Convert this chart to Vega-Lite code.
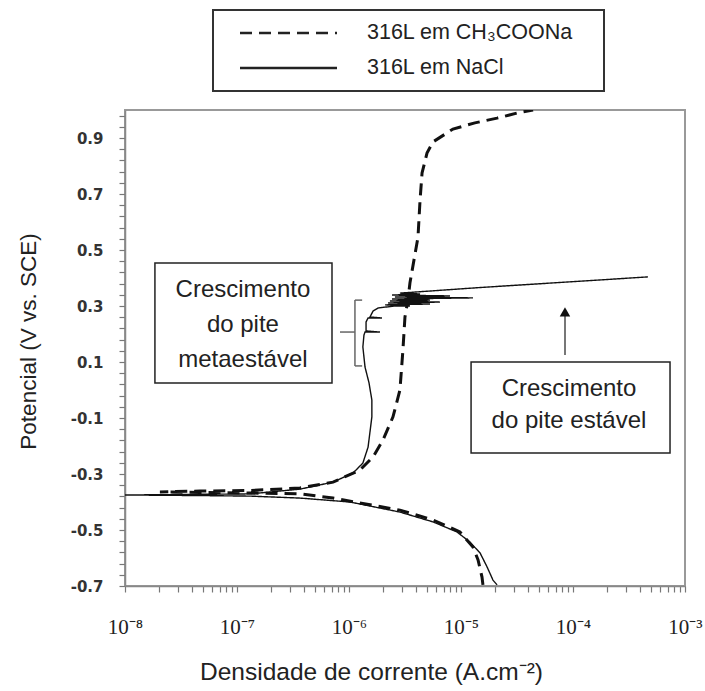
{
  "$schema": "https://vega.github.io/schema/vega-lite/v6.json",
  "width": 560,
  "height": 476,
  "autosize": {"type": "none"},
  "padding": {"left": 125, "top": 110, "right": 20, "bottom": 105},
  "background": "white",
  "config": {
    "view": {"stroke": "#999", "strokeWidth": 2},
    "font": "Liberation Sans"
  },
  "datasets": {
    "solid": [
      {"s": "316L em NaCl", "o": 1, "i": 2.10e-5, "E": -0.696},
      {"s": "316L em NaCl", "o": 2, "i": 1.93e-5, "E": -0.679},
      {"s": "316L em NaCl", "o": 3, "i": 1.71e-5, "E": -0.632},
      {"s": "316L em NaCl", "o": 4, "i": 1.48e-5, "E": -0.582},
      {"s": "316L em NaCl", "o": 5, "i": 1.20e-5, "E": -0.543},
      {"s": "316L em NaCl", "o": 6, "i": 9.21e-6, "E": -0.507},
      {"s": "316L em NaCl", "o": 7, "i": 5.62e-6, "E": -0.471},
      {"s": "316L em NaCl", "o": 8, "i": 2.85e-6, "E": -0.436},
      {"s": "316L em NaCl", "o": 9, "i": 1.02e-6, "E": -0.400},
      {"s": "316L em NaCl", "o": 10, "i": 3.65e-7, "E": -0.386},
      {"s": "316L em NaCl", "o": 11, "i": 1.31e-7, "E": -0.379},
      {"s": "316L em NaCl", "o": 12, "i": 4.67e-8, "E": -0.377},
      {"s": "316L em NaCl", "o": 13, "i": 1.0e-8, "E": -0.375},
      {"s": "316L em NaCl", "o": 14, "i": 1.31e-7, "E": -0.371},
      {"s": "316L em NaCl", "o": 15, "i": 3.65e-7, "E": -0.354},
      {"s": "316L em NaCl", "o": 16, "i": 7.20e-7, "E": -0.329},
      {"s": "316L em NaCl", "o": 17, "i": 1.09e-6, "E": -0.296},
      {"s": "316L em NaCl", "o": 18, "i": 1.33e-6, "E": -0.261},
      {"s": "316L em NaCl", "o": 19, "i": 1.48e-6, "E": -0.204},
      {"s": "316L em NaCl", "o": 20, "i": 1.60e-6, "E": -0.096},
      {"s": "316L em NaCl", "o": 21, "i": 1.60e-6, "E": -0.036},
      {"s": "316L em NaCl", "o": 22, "i": 1.51e-6, "E": 0.025},
      {"s": "316L em NaCl", "o": 23, "i": 1.39e-6, "E": 0.082},
      {"s": "316L em NaCl", "o": 24, "i": 1.33e-6, "E": 0.154},
      {"s": "316L em NaCl", "o": 25, "i": 1.36e-6, "E": 0.196},
      {"s": "316L em NaCl", "o": 26, "i": 1.39e-6, "E": 0.207},
      {"s": "316L em NaCl", "o": 27, "i": 1.89e-6, "E": 0.207},
      {"s": "316L em NaCl", "o": 28, "i": 1.42e-6, "E": 0.211},
      {"s": "316L em NaCl", "o": 29, "i": 1.42e-6, "E": 0.243},
      {"s": "316L em NaCl", "o": 30, "i": 1.48e-6, "E": 0.257},
      {"s": "316L em NaCl", "o": 31, "i": 1.97e-6, "E": 0.257},
      {"s": "316L em NaCl", "o": 32, "i": 1.54e-6, "E": 0.261},
      {"s": "316L em NaCl", "o": 33, "i": 1.64e-6, "E": 0.282},
      {"s": "316L em NaCl", "o": 34, "i": 1.82e-6, "E": 0.293},
      {"s": "316L em NaCl", "o": 35, "i": 2.57e-6, "E": 0.300},
      {"s": "316L em NaCl", "o": 36, "i": 3.50e-6, "E": 0.300},
      {"s": "316L em NaCl", "o": 37, "i": 2.10e-6, "E": 0.304},
      {"s": "316L em NaCl", "o": 38, "i": 5.29e-6, "E": 0.307},
      {"s": "316L em NaCl", "o": 39, "i": 2.23e-6, "E": 0.311},
      {"s": "316L em NaCl", "o": 40, "i": 6.49e-6, "E": 0.314},
      {"s": "316L em NaCl", "o": 41, "i": 2.32e-6, "E": 0.318},
      {"s": "316L em NaCl", "o": 42, "i": 5.29e-6, "E": 0.321},
      {"s": "316L em NaCl", "o": 43, "i": 2.42e-6, "E": 0.325},
      {"s": "316L em NaCl", "o": 44, "i": 1.28e-5, "E": 0.329},
      {"s": "316L em NaCl", "o": 45, "i": 2.57e-6, "E": 0.332},
      {"s": "316L em NaCl", "o": 46, "i": 7.98e-6, "E": 0.336},
      {"s": "316L em NaCl", "o": 47, "i": 2.42e-6, "E": 0.339},
      {"s": "316L em NaCl", "o": 48, "i": 4.31e-6, "E": 0.343},
      {"s": "316L em NaCl", "o": 49, "i": 2.85e-6, "E": 0.346},
      {"s": "316L em NaCl", "o": 50, "i": 1.48e-5, "E": 0.366},
      {"s": "316L em NaCl", "o": 51, "i": 7.65e-5, "E": 0.384},
      {"s": "316L em NaCl", "o": 52, "i": 1.74e-4, "E": 0.393},
      {"s": "316L em NaCl", "o": 53, "i": 4.67e-4, "E": 0.404}
    ],
    "dashed": [
      {"s": "316L em CH₃COONa", "o": 1, "i": 1.57e-5, "E": -0.696},
      {"s": "316L em CH₃COONa", "o": 2, "i": 1.54e-5, "E": -0.668},
      {"s": "316L em CH₃COONa", "o": 3, "i": 1.42e-5, "E": -0.607},
      {"s": "316L em CH₃COONa", "o": 4, "i": 1.28e-5, "E": -0.561},
      {"s": "316L em CH₃COONa", "o": 5, "i": 9.80e-6, "E": -0.507},
      {"s": "316L em CH₃COONa", "o": 6, "i": 5.62e-6, "E": -0.464},
      {"s": "316L em CH₃COONa", "o": 7, "i": 2.85e-6, "E": -0.429},
      {"s": "316L em CH₃COONa", "o": 8, "i": 7.20e-7, "E": -0.386},
      {"s": "316L em CH₃COONa", "o": 9, "i": 3.65e-7, "E": -0.371},
      {"s": "316L em CH₃COONa", "o": 10, "i": 1.31e-7, "E": -0.368},
      {"s": "316L em CH₃COONa", "o": 11, "i": 4.67e-8, "E": -0.366},
      {"s": "316L em CH₃COONa", "o": 12, "i": 2.05e-8, "E": -0.364},
      {"s": "316L em CH₃COONa", "o": 13, "i": 4.67e-8, "E": -0.361},
      {"s": "316L em CH₃COONa", "o": 14, "i": 1.31e-7, "E": -0.359},
      {"s": "316L em CH₃COONa", "o": 15, "i": 3.65e-7, "E": -0.350},
      {"s": "316L em CH₃COONa", "o": 16, "i": 7.20e-7, "E": -0.329},
      {"s": "316L em CH₃COONa", "o": 17, "i": 1.25e-6, "E": -0.286},
      {"s": "316L em CH₃COONa", "o": 18, "i": 1.64e-6, "E": -0.239},
      {"s": "316L em CH₃COONa", "o": 19, "i": 2.01e-6, "E": -0.179},
      {"s": "316L em CH₃COONa", "o": 20, "i": 2.47e-6, "E": -0.096},
      {"s": "316L em CH₃COONa", "o": 21, "i": 2.85e-6, "E": 0.000},
      {"s": "316L em CH₃COONa", "o": 22, "i": 3.03e-6, "E": 0.143},
      {"s": "316L em CH₃COONa", "o": 23, "i": 3.16e-6, "E": 0.261},
      {"s": "316L em CH₃COONa", "o": 24, "i": 3.36e-6, "E": 0.321},
      {"s": "316L em CH₃COONa", "o": 25, "i": 3.50e-6, "E": 0.382},
      {"s": "316L em CH₃COONa", "o": 26, "i": 4.13e-6, "E": 0.546},
      {"s": "316L em CH₃COONa", "o": 27, "i": 4.31e-6, "E": 0.679},
      {"s": "316L em CH₃COONa", "o": 28, "i": 4.49e-6, "E": 0.775},
      {"s": "316L em CH₃COONa", "o": 29, "i": 4.97e-6, "E": 0.846},
      {"s": "316L em CH₃COONa", "o": 30, "i": 5.62e-6, "E": 0.886},
      {"s": "316L em CH₃COONa", "o": 31, "i": 8.48e-6, "E": 0.932},
      {"s": "316L em CH₃COONa", "o": 32, "i": 1.33e-5, "E": 0.954},
      {"s": "316L em CH₃COONa", "o": 33, "i": 2.10e-5, "E": 0.971},
      {"s": "316L em CH₃COONa", "o": 34, "i": 3.16e-5, "E": 0.989},
      {"s": "316L em CH₃COONa", "o": 35, "i": 4.40e-5, "E": 1.0}
    ],
    "boxes": [
      {"i": 1.85e-8, "i2": 7.05e-7, "E": 0.025, "E2": 0.454},
      {"i": 1.23e-5, "i2": 7.35e-4, "E": -0.225, "E2": 0.100}
    ],
    "notes": [
      {"t": "Crescimento", "i": 1.13e-7, "E": 0.357},
      {"t": "do pite", "i": 1.13e-7, "E": 0.232},
      {"t": "metaestável", "i": 1.13e-7, "E": 0.107},
      {"t": "Crescimento", "i": 9.21e-5, "E": 0.004},
      {"t": "do pite estável", "i": 9.21e-5, "E": -0.111}
    ],
    "bracket": [
      {"i": 1.13e-6, "i2": 1.13e-6, "E": 0.086, "E2": 0.321},
      {"i": 1.13e-6, "i2": 1.31e-6, "E": 0.321, "E2": 0.321},
      {"i": 1.13e-6, "i2": 1.31e-6, "E": 0.086, "E2": 0.086},
      {"i": 8.31e-7, "i2": 1.13e-6, "E": 0.207, "E2": 0.207}
    ],
    "arrow": [
      {"i": 8.48e-5, "i2": 8.48e-5, "E": 0.125, "E2": 0.265}
    ],
    "head": [
      {"i": 8.48e-5, "E": 0.279}
    ]
  },
  "layer": [
    {
      "data": {"name": "dashed"},
      "mark": {"type": "line", "color": "#111", "clip": true, "strokeCap": "butt", "strokeWidth": 3},
      "encoding": {
        "x": {
          "field": "i", "type": "quantitative",
          "scale": {"type": "log", "domain": [1e-8, 1e-3], "nice": false},
          "axis": {
            "title": "Densidade de corrente (A.cm⁻²)",
            "titleFont": "Liberation Sans", "titleFontSize": 24.5, "titleFontWeight": "normal", "titleColor": "#222",
            "titleX": 246, "titleY": 86, "titleAlign": "center", "titleBaseline": "middle", "titleAnchor": null,
            "tickCount": 1000,
            "values": [1e-8,2e-8,3e-8,4e-8,5e-8,6e-8,7e-8,8e-8,9e-8,1e-7,2e-7,3e-7,4e-7,5e-7,6e-7,7e-7,8e-7,9e-7,1e-6,2e-6,3e-6,4e-6,5e-6,6e-6,7e-6,8e-6,9e-6,1e-5,2e-5,3e-5,4e-5,5e-5,6e-5,7e-5,8e-5,9e-5,1e-4,2e-4,3e-4,4e-4,5e-4,6e-4,7e-4,8e-4,9e-4,1e-3],
            "labelExpr": "abs(log(datum.value)/LN10 - round(log(datum.value)/LN10)) < 0.01 ? '10' + '⁻' + ['⁰','¹','²','³','⁴','⁵','⁶','⁷','⁸','⁹'][-round(log(datum.value)/LN10)] : ''",
            "labelFont": "Liberation Serif", "labelFontSize": 21, "labelColor": "#222",
            "labelPadding": 24, "labelOverlap": false, "labelFlush": false, "labelBaseline": "top",
            "tickSize": 6, "tickColor": "#777", "tickWidth": 1.2,
            "domainColor": "#888", "domainWidth": 1.5, "grid": false,
            "encode": {
              "ticks": {
                "update": {
                  "y": {"signal": "abs(log(datum.value)/LN10 - round(log(datum.value)/LN10)) < 0.01 ? -5 : 0"},
                  "y2": {"signal": "abs(log(datum.value)/LN10 - round(log(datum.value)/LN10)) < 0.01 ? 7 : 5"}
                }
              }
            }
          }
        },
        "y": {
          "field": "E", "type": "quantitative",
          "scale": {"domain": [-0.7, 1.0], "nice": false, "zero": false},
          "axis": {
            "title": "Potencial (V vs. SCE)",
            "titleFont": "Liberation Sans", "titleFontSize": 22.5, "titleFontWeight": "normal", "titleColor": "#222",
            "titleX": -97, "titleY": 231, "titleAlign": "center", "titleBaseline": "middle", "titleAngle": -90, "titleAnchor": null,
            "tickCount": 1000,
            "values": [-0.7,-0.66,-0.62,-0.58,-0.54,-0.5,-0.46,-0.42,-0.38,-0.34,-0.3,-0.26,-0.22,-0.18,-0.14,-0.1,-0.06,-0.02,0.02,0.06,0.1,0.14,0.18,0.22,0.26,0.3,0.34,0.38,0.42,0.46,0.5,0.54,0.58,0.62,0.66,0.7,0.74,0.78,0.82,0.86,0.9,0.94,0.98],
            "labelExpr": "abs((datum.value + 0.7)/0.2 - round((datum.value + 0.7)/0.2)) < 0.01 ? (datum.value < 0 ? '-' : '') + format(abs(datum.value), '.1f') : ''",
            "labelFont": "DejaVu Sans", "labelFontSize": 15, "labelFontWeight": "bold", "labelColor": "#333",
            "labelPadding": 16, "labelOverlap": false, "labelFlush": false,
            "tickSize": 6, "tickColor": "#777", "tickWidth": 1.2,
            "domainColor": "#888", "domainWidth": 1.5, "grid": false,
            "encode": {
              "ticks": {
                "update": {
                  "x": {"signal": "abs((datum.value + 0.7)/0.2 - round((datum.value + 0.7)/0.2)) < 0.01 ? 3 : 0"},
                  "x2": {"signal": "abs((datum.value + 0.7)/0.2 - round((datum.value + 0.7)/0.2)) < 0.01 ? -7 : -5"}
                }
              }
            }
          }
        },
        "order": {"field": "o", "type": "quantitative"},
        "strokeDash": {
          "field": "s", "type": "nominal",
          "scale": {"domain": ["316L em CH₃COONa", "316L em NaCl"], "range": [[12, 7], [1, 0]]},
          "legend": {
            "title": " ", "titleOrient": "right", "titlePadding": 19, "titleFontSize": 8,
            "orient": "none", "legendX": 88, "legendY": -100,
            "strokeColor": "#333", "fillColor": "white",
            "padding": 12, "symbolType": "stroke", "symbolSize": 9409,
            "symbolStrokeWidth": 2.6, "symbolStrokeColor": "#222",
            "labelFont": "Liberation Sans", "labelFontSize": 21.5, "labelColor": "#222", "labelLimit": 400,
            "rowPadding": 13,
            "encode": {
              "legend": {"update": {"strokeWidth": {"value": 2}}},
              "symbols": {"update": {"x": {"value": 63.5}, "y": {"value": 11}, "strokeWidth": {"value": 2.6}}},
              "labels": {"update": {"x": {"value": 142}, "y": {"value": 11}}}
            }
          }
        }
      }
    },
    {
      "data": {"name": "solid"},
      "mark": {"type": "line", "color": "#111", "clip": true, "strokeCap": "butt", "strokeWidth": 1.4},
      "encoding": {
        "x": {"field": "i", "type": "quantitative"},
        "y": {"field": "E", "type": "quantitative"},
        "order": {"field": "o", "type": "quantitative"},
        "strokeDash": {"field": "s", "type": "nominal"}
      }
    },
    {
      "data": {"name": "boxes"},
      "mark": {"type": "rect", "fill": "white", "stroke": "#222", "strokeWidth": 1.5},
      "encoding": {
        "x": {"field": "i", "type": "quantitative"},
        "x2": {"field": "i2"},
        "y": {"field": "E", "type": "quantitative"},
        "y2": {"field": "E2"}
      }
    },
    {
      "data": {"name": "notes"},
      "mark": {"type": "text", "font": "Liberation Sans", "fontSize": 24, "color": "#222", "align": "center", "baseline": "middle"},
      "encoding": {
        "x": {"field": "i", "type": "quantitative"},
        "y": {"field": "E", "type": "quantitative"},
        "text": {"field": "t"}
      }
    },
    {
      "data": {"name": "bracket"},
      "mark": {"type": "rule", "color": "#666", "strokeWidth": 1.5},
      "encoding": {
        "x": {"field": "i", "type": "quantitative"},
        "x2": {"field": "i2"},
        "y": {"field": "E", "type": "quantitative"},
        "y2": {"field": "E2"}
      }
    },
    {
      "data": {"name": "arrow"},
      "mark": {"type": "rule", "color": "#777", "strokeWidth": 2},
      "encoding": {
        "x": {"field": "i", "type": "quantitative"},
        "x2": {"field": "i2"},
        "y": {"field": "E", "type": "quantitative"},
        "y2": {"field": "E2"}
      }
    },
    {
      "data": {"name": "head"},
      "mark": {"type": "point", "shape": "triangle-up", "filled": true, "color": "#111", "size": 110, "opacity": 1},
      "encoding": {
        "x": {"field": "i", "type": "quantitative"},
        "y": {"field": "E", "type": "quantitative"}
      }
    }
  ]
}
